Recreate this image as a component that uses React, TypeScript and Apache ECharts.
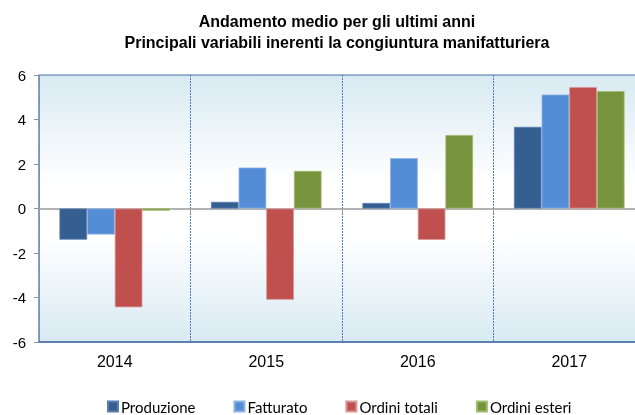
import React, { useEffect, useRef } from "react";
import * as echarts from "echarts";

const categories = ["2014", "2015", "2016", "2017"];
const produzione = [-1.4, 0.3, 0.25, 3.67];
const fatturato = [-1.17, 1.84, 2.26, 5.12];
const ordiniTotali = [-4.44, -4.1, -1.41, 5.46];
const ordiniEsteri = [-0.1, 1.69, 3.3, 5.28];
const seriesNames = ["Produzione", "Fatturato", "Ordini totali", "Ordini esteri"];
const titleText = "Andamento medio per gli ultimi anni\nPrincipali variabili inerenti la congiuntura manifatturiera";

const colors = ["#365f91", "#538dd5", "#c0504d", "#77933c"];
const borders = ["#5a7db0", "#8db3e2", "#d99694", "#a3bd6e"];

export default function App() {
  const ref = useRef<HTMLDivElement>(null);
  useEffect(() => {
    if (!ref.current) return;
    const chart = echarts.init(ref.current, null, { renderer: "svg" });
    const dataSets = [produzione, fatturato, ordiniTotali, ordiniEsteri];
    chart.setOption({
      animation: false,
      graphic: [
        {
          type: "text",
          x: 337,
          y: 11,
          style: {
            text: titleText,
            textAlign: "center",
            textVerticalAlign: "top",
            font: "bold 16px 'Liberation Sans', Arial, sans-serif",
            fill: "#000",
            lineHeight: 21,
          },
        },
      ],
      legend: {
        data: seriesNames,
        left: 102,
        top: 394,
        icon: "rect",
        itemWidth: 10,
        itemHeight: 10,
        itemGap: 38,
        textStyle: { fontFamily: "Lato, 'Open Sans', sans-serif", fontSize: 15, color: "#000", padding: [0, 0, 0, -2] },
      },
      grid: {
        left: 39,
        top: 75,
        width: 606,
        height: 267,
        show: true,
        borderColor: "#4a6ea6",
        borderWidth: 1,
        backgroundColor: new echarts.graphic.LinearGradient(0, 0, 0, 1, [
          { offset: 0, color: "#d8eaf2" },
          { offset: 0.4, color: "#ffffff" },
          { offset: 0.6, color: "#ffffff" },
          { offset: 1, color: "#d8eaf2" },
        ]),
      },
      xAxis: [
        {
          type: "category",
          data: categories,
          position: "bottom",
          axisLine: { onZero: false, lineStyle: { color: "#4a6ea6", width: 1.5 } },
          axisTick: { show: false },
          axisLabel: { color: "#000", fontSize: 16, fontFamily: "'Liberation Sans', Arial, sans-serif", margin: 11 },
          splitLine: { show: true, lineStyle: { color: "#4f7cc0", type: [2, 1], width: 1 } },
        },
        {
          type: "category",
          data: categories,
          position: "top",
          axisLine: { onZero: true, lineStyle: { color: "#9a9a9a", width: 1.5 } },
          axisTick: { show: true, inside: true, length: 5, lineStyle: { color: "#9a9a9a" } },
          axisLabel: { show: false },
          splitLine: { show: false },
        },
      ],
      yAxis: {
        type: "value",
        min: -6,
        max: 6,
        interval: 2,
        axisLine: { show: true, lineStyle: { color: "#8497b0", width: 1.5 } },
        axisTick: { show: true, length: 5, lineStyle: { color: "#8497b0" } },
        axisLabel: { color: "#000", fontSize: 15, fontFamily: "'Liberation Sans', Arial, sans-serif", margin: 13 },
        splitLine: { show: false },
      },
      series: seriesNames.map((name, i) => ({
        name,
        type: "bar",
        data: dataSets[i],
        xAxisIndex: 0,
        barGap: "0%",
        barCategoryGap: "27%",
        itemStyle: { color: colors[i], borderColor: borders[i], borderWidth: 0.8 },
      })),
    });
    return () => chart.dispose();
  }, []);
  return (
    <div style={{ position: "fixed", left: 0, top: 0, width: 635, height: 415, overflow: "hidden" }}>
      <div ref={ref} style={{ width: 645, height: 415 }} />
    </div>
  );
}
